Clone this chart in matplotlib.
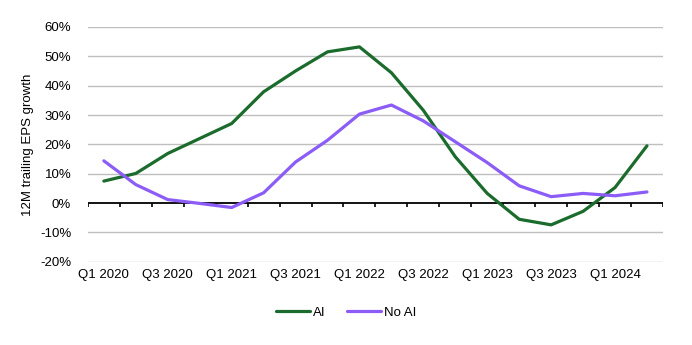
import numpy as np
import matplotlib
matplotlib.use("Agg")
import matplotlib.pyplot as plt

# Quarterly 12M trailing EPS growth (%)
QUARTERS = [f"Q{q} {y}" for y in range(2020, 2025) for q in range(1, 5)][:18]
AI = [7.5, 10.1, 16.9, 22.0, 27.1, 37.9, 45.0, 51.5, 53.2, 44.4,
      31.6, 15.8, 3.3, -5.5, -7.4, -2.8, 5.3, 19.5]
NO_AI = [14.4, 6.3, 1.2, -0.1, -1.5, 3.5, 14.0, 21.4, 30.3, 33.4,
         28.0, 20.9, 13.8, 5.9, 2.2, 3.3, 2.5, 3.8]
YTICKS = [-20, -10, 0, 10, 20, 30, 40, 50, 60]

GREEN = "#1b6b2c"
PURPLE = "#8b5cf6"

plt.rcParams["font.family"] = ["Liberation Sans", "DejaVu Sans"]
plt.rcParams["font.size"] = 9.5

fig = plt.figure(figsize=(6.92, 3.45), dpi=100)
ax = fig.add_axes([0.127, 0.241, 0.831, 0.681])

x = np.arange(len(QUARTERS))
ax.plot(x, AI, color=GREEN, lw=2.3, label="AI", solid_capstyle="round", zorder=3)
ax.plot(x, NO_AI, color=PURPLE, lw=2.3, label="No AI", solid_capstyle="round", zorder=3)

ax.set_xlim(-0.5, len(QUARTERS) - 0.5)
ax.set_ylim(-20, 60)
ax.set_yticks(YTICKS)
ax.set_yticklabels([f"{v}%" for v in YTICKS])
for v in YTICKS:
    if v != 0:
        ax.axhline(v, color="#bfbfbf", lw=1.0, zorder=1)

# zero baseline with category boundary ticks
ax.axhline(0, color="black", lw=1.3, zorder=2)
bounds = np.arange(len(QUARTERS) + 1) - 0.5
ax.vlines(bounds, -1.4, 0, color="black", lw=1.2, zorder=2)

ax.set_xticks(x[::2])
ax.set_xticklabels(QUARTERS[::2])
ax.tick_params(axis="x", length=0, pad=5)
ax.tick_params(axis="y", length=0, pad=12)
for s in ax.spines.values():
    s.set_visible(False)

ax.set_ylabel("12M trailing EPS growth", labelpad=4)

fig.legend(loc="center", bbox_to_anchor=(0.5, 0.093), ncol=2, frameon=False,
           handlelength=2.6, handletextpad=0.2, columnspacing=1.6)

fig.savefig("out.png", dpi=100, facecolor="white")
